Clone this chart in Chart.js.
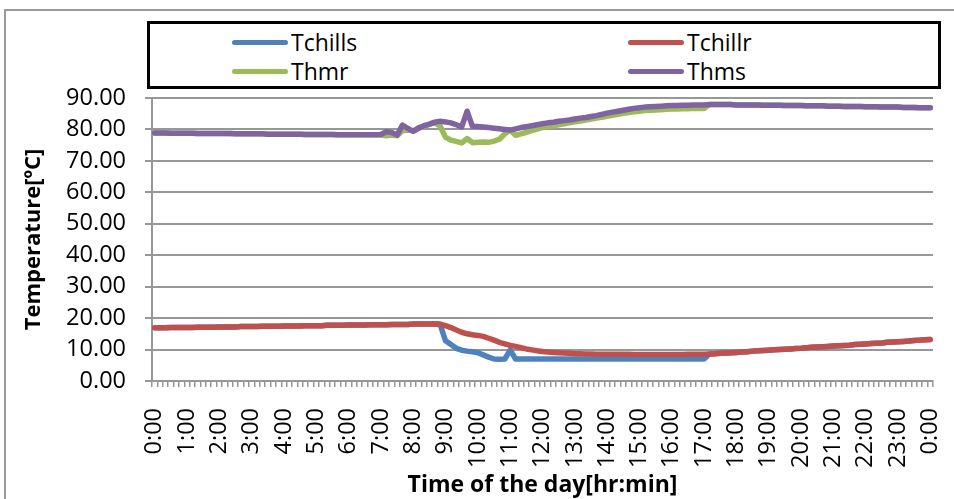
<!DOCTYPE html>
<html>
<head>
<meta charset="utf-8">
<script src="https://cdn.jsdelivr.net/npm/chart.js@4.4.1/dist/chart.umd.min.js"></script>
<style>
    body { margin: 0; background: #fff; font-family: "Open Sans", sans-serif; }
    #wrap { position: relative; width: 954px; height: 499px; overflow: hidden; }
    #frame { position: absolute; left: 4px; top: 9px; width: 1000px; height: 600px; border: 2px solid #9a9a9a; }
    #chart { position: absolute; left: 0; top: 0; }
    #legend { position: absolute; left: 147px; top: 21px; width: 794px; height: 68px; border: 3px solid #000; box-sizing: border-box; background: #fff; }
    .item { position: absolute; font-size: 23px; line-height: 24px; display: flex; align-items: center; color: #000; }
    .swatch { display: inline-block; width: 56px; height: 5px; border-radius: 3px; margin-right: 3px; }
</style>
</head>
<body>
<div id="wrap">
    <div id="frame"></div>
    <canvas id="chart" width="954" height="499"></canvas>
    <div id="legend"></div>
</div>
<script>
// hour labels shown under the axis (every 6th category)
const hourLabels = ["0:00", "1:00", "2:00", "3:00", "4:00", "5:00", "6:00", "7:00", "8:00", "9:00", "10:00", "11:00",
    "12:00", "13:00", "14:00", "15:00", "16:00", "17:00", "18:00", "19:00", "20:00", "21:00", "22:00", "23:00", "0:00"];

// 10 minute samples, 0:00 .. 24:00
const times = [];
for (let i = 0; i <= 144; i++) {
    const h = Math.floor(i / 6) % 24;
    const m = (i % 6) * 10;
    times.push(h + ":" + String(m).padStart(2, "0"));
}

const tchills = [
    16.9, 16.9, 16.9, 17.0, 17.0, 17.0, 17.0, 17.0, 17.1, 17.1, 17.1, 17.1,
    17.2, 17.2, 17.2, 17.2, 17.3, 17.3, 17.3, 17.3, 17.4, 17.4, 17.4, 17.4,
    17.5, 17.5, 17.5, 17.5, 17.6, 17.6, 17.6, 17.6, 17.7, 17.7, 17.7, 17.7,
    17.8, 17.8, 17.8, 17.8, 17.9, 17.9, 17.9, 17.9, 18.0, 18.0, 18.0, 18.0,
    18.1, 18.1, 18.1, 18.1, 18.2, 17.9, 12.8, 11.6, 10.4, 9.8, 9.5, 9.3,
    9.0, 8.3, 7.6, 7.0, 6.9, 7.0, 9.8, 7.0, 7.0, 7.0, 7.0, 7.0,
    7.0, 7.0, 7.0, 7.0, 7.0, 7.0, 7.0, 7.0, 7.0, 7.0, 7.0, 7.0,
    7.0, 7.0, 7.0, 7.0, 7.0, 7.0, 7.0, 7.0, 7.0, 7.0, 7.0, 7.0,
    7.0, 7.0, 7.0, 7.0, 7.0, 7.0, 7.0, 8.6, 8.7, 8.8, 8.9, 9.0,
    9.1, 9.2, 9.3, 9.5, 9.6, 9.7, 9.8, 9.9, 10.0, 10.1, 10.2, 10.3,
    10.4, 10.6, 10.7, 10.8, 10.9, 11.0, 11.1, 11.2, 11.3, 11.4, 11.6, 11.7,
    11.8, 11.9, 12.0, 12.1, 12.3, 12.4, 12.5, 12.6, 12.7, 12.9, 13.0, 13.1,
    13.2
];

const tchillr = [
    16.9, 16.9, 16.9, 17.0, 17.0, 17.0, 17.0, 17.0, 17.1, 17.1, 17.1, 17.1,
    17.2, 17.2, 17.2, 17.2, 17.3, 17.3, 17.3, 17.3, 17.4, 17.4, 17.4, 17.4,
    17.5, 17.5, 17.5, 17.5, 17.6, 17.6, 17.6, 17.6, 17.7, 17.7, 17.7, 17.7,
    17.8, 17.8, 17.8, 17.8, 17.9, 17.9, 17.9, 17.9, 18.0, 18.0, 18.0, 18.0,
    18.1, 18.1, 18.1, 18.1, 18.2, 18.1, 17.6, 17.0, 16.2, 15.5, 15.0, 14.7,
    14.5, 14.2, 13.6, 13.0, 12.3, 11.8, 11.3, 11.0, 10.6, 10.2, 9.9, 9.6,
    9.4, 9.2, 9.1, 9.0, 8.9, 8.8, 8.7, 8.7, 8.6, 8.6, 8.5, 8.5,
    8.5, 8.5, 8.5, 8.5, 8.5, 8.4, 8.4, 8.4, 8.4, 8.4, 8.4, 8.4,
    8.4, 8.4, 8.4, 8.5, 8.5, 8.5, 8.5, 8.6, 8.7, 8.8, 8.9, 9.0,
    9.1, 9.2, 9.3, 9.5, 9.6, 9.7, 9.8, 9.9, 10.0, 10.1, 10.2, 10.3,
    10.4, 10.6, 10.7, 10.8, 10.9, 11.0, 11.1, 11.2, 11.3, 11.4, 11.6, 11.7,
    11.8, 11.9, 12.0, 12.1, 12.3, 12.4, 12.5, 12.6, 12.7, 12.9, 13.0, 13.1,
    13.2
];

const thmr = [
    78.9, 78.9, 78.9, 78.8, 78.8, 78.8, 78.8, 78.8, 78.7, 78.7, 78.7, 78.7,
    78.7, 78.7, 78.7, 78.6, 78.6, 78.6, 78.6, 78.6, 78.6, 78.5, 78.5, 78.5,
    78.5, 78.5, 78.5, 78.5, 78.4, 78.4, 78.4, 78.4, 78.4, 78.4, 78.3, 78.3,
    78.3, 78.3, 78.3, 78.3, 78.3, 78.3, 78.2, 78.0, 78.2, 78.0, 79.6, 79.8,
    79.6, 80.3, 81.0, 81.6, 82.2, 81.0, 77.5, 76.6, 76.2, 75.7, 77.1, 75.8,
    75.9, 76.0, 75.9, 76.3, 76.9, 78.6, 79.8, 78.1, 78.6, 79.1, 79.6, 80.1,
    80.6, 80.9, 81.2, 81.5, 81.8, 82.1, 82.4, 82.7, 83.0, 83.3, 83.6, 83.9,
    84.2, 84.5, 84.8, 85.1, 85.4, 85.6, 85.8, 86.0, 86.1, 86.2, 86.3, 86.4,
    86.5, 86.5, 86.6, 86.6, 86.7, 86.7, 86.7, 87.9, 87.9, 87.9, 87.9, 87.9,
    87.8, 87.8, 87.8, 87.8, 87.8, 87.7, 87.7, 87.7, 87.7, 87.6, 87.6, 87.6,
    87.6, 87.5, 87.5, 87.5, 87.5, 87.4, 87.4, 87.4, 87.3, 87.3, 87.3, 87.3,
    87.2, 87.2, 87.2, 87.1, 87.1, 87.1, 87.1, 87.0, 87.0, 87.0, 86.9, 86.9,
    86.9
];

const thms = [
    78.9, 78.9, 78.9, 78.8, 78.8, 78.8, 78.8, 78.8, 78.7, 78.7, 78.7, 78.7,
    78.7, 78.7, 78.7, 78.6, 78.6, 78.6, 78.6, 78.6, 78.6, 78.5, 78.5, 78.5,
    78.5, 78.5, 78.5, 78.5, 78.4, 78.4, 78.4, 78.4, 78.4, 78.4, 78.3, 78.3,
    78.3, 78.3, 78.3, 78.3, 78.3, 78.3, 78.4, 79.3, 79.0, 78.2, 81.4, 80.3,
    79.4, 80.5, 81.2, 81.7, 82.3, 82.6, 82.4, 82.1, 81.5, 80.8, 85.8, 81.0,
    80.9, 80.8, 80.6, 80.4, 80.2, 80.0, 79.8, 80.2, 80.6, 80.9, 81.2, 81.5,
    81.8, 82.1, 82.3, 82.6, 82.8, 83.0, 83.3, 83.6, 83.8, 84.1, 84.4, 84.8,
    85.2, 85.5, 85.8, 86.1, 86.4, 86.7, 86.9, 87.1, 87.2, 87.3, 87.4, 87.5,
    87.6, 87.6, 87.7, 87.7, 87.8, 87.8, 87.8, 87.9, 87.9, 87.9, 87.9, 87.9,
    87.8, 87.8, 87.8, 87.8, 87.8, 87.7, 87.7, 87.7, 87.7, 87.6, 87.6, 87.6,
    87.6, 87.5, 87.5, 87.5, 87.5, 87.4, 87.4, 87.4, 87.3, 87.3, 87.3, 87.3,
    87.2, 87.2, 87.2, 87.1, 87.1, 87.1, 87.1, 87.0, 87.0, 87.0, 86.9, 86.9,
    86.9
];

const seriesNames = ["Tchills", "Tchillr", "Thmr", "Thms"];
const seriesColors = ["#4F81BD", "#C0504D", "#9BBB59", "#8064A2"];

Chart.defaults.font.family = "'Open Sans', sans-serif";
Chart.defaults.font.size = 23.5;
Chart.defaults.color = "#000";

const gridColor = "#979797";

const chart = new Chart(document.getElementById("chart"), {
    type: "line",
    data: {
        labels: times,
        datasets: [tchills, tchillr, thmr, thms].map((d, i) => ({
            label: seriesNames[i],
            data: d,
            borderColor: seriesColors[i],
            backgroundColor: seriesColors[i],
            order: 4 - i, // later series on top, like Excel
        })),
    },
    options: {
        responsive: false,
        animation: false,
        layout: { padding: { top: 98, right: 21, left: 0, bottom: 0 } },
        plugins: {
            legend: { display: false },
            tooltip: { enabled: false },
        },
        elements: {
            point: { radius: 0 },
            line: { borderWidth: 5.5, tension: 0, borderCapStyle: "round", borderJoinStyle: "round" },
        },
        scales: {
            x: {
                offset: true,
                grid: { offset: true, drawOnChartArea: false, drawTicks: true, tickLength: 6, color: gridColor, lineWidth: 1.5 },
                border: { display: true, color: gridColor, width: 2 },
                ticks: {
                    autoSkip: false,
                    maxRotation: 90,
                    minRotation: 90,
                    padding: 21,
                    callback: (value, index) => (index % 6 === 0 ? hourLabels[index / 6] : ""),
                },
                title: {
                    display: true,
                    text: "Time of the day[hr:min]",
                    font: { weight: "bold", size: 23 },
                    padding: { top: 0, bottom: 0 },
                },
                afterFit: (scale) => {
                    scale.height = 118;
                    scale.paddingLeft = 0;
                    scale.paddingRight = 0;
                },
            },
            y: {
                min: 0,
                max: 90,
                grid: { color: gridColor, lineWidth: 2, tickLength: 7 },
                border: { display: true, color: gridColor, width: 2 },
                ticks: {
                    stepSize: 10,
                    padding: 19,
                    callback: (v) => v.toFixed(2),
                },
                title: {
                    display: true,
                    text: "Temperature[ºC]",
                    font: { weight: "bold", size: 22 },
                    padding: { top: 21, bottom: 0 },
                },
                afterFit: (scale) => {
                    scale.width = 152;
                    scale.paddingTop = 0;
                    scale.paddingBottom = 0;
                },
            },
        },
    },
});

// legend box: two columns, two rows
const legendPos = [[82, 6], [478, 6], [82, 35], [478, 35]];
const legendEl = document.getElementById("legend");
chart.data.datasets.forEach((ds, i) => {
    const item = document.createElement("div");
    item.className = "item";
    item.style.left = legendPos[i][0] + "px";
    item.style.top = legendPos[i][1] + "px";
    item.innerHTML = '<span class="swatch" style="background:' + ds.borderColor + '"></span><span>' + ds.label + "</span>";
    legendEl.appendChild(item);
});
</script>
</body>
</html>
